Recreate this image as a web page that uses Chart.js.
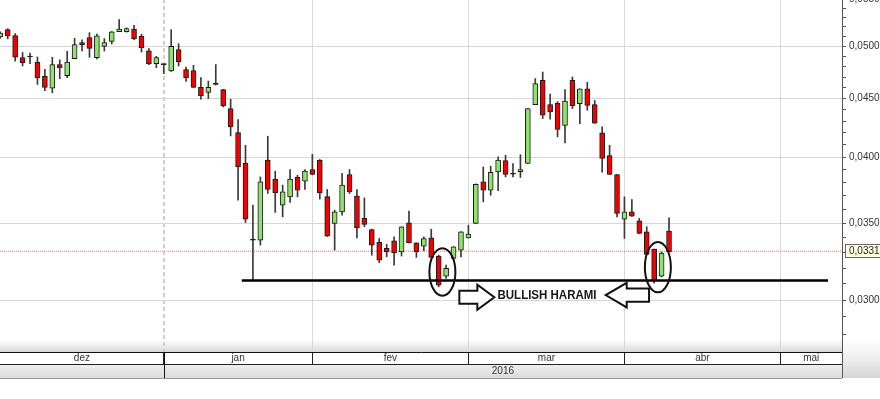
<!DOCTYPE html>
<html>
<head>
<meta charset="utf-8">
<script src="https://cdn.jsdelivr.net/npm/chart.js@4.4.1/dist/chart.umd.min.js"></script>
<style>
  html, body { margin: 0; padding: 0; background: #fff; overflow: hidden; }
  #wrap { position: relative; width: 880px; height: 399px; overflow: hidden; }
  /* canvas shifted up so the top tick label (0,0550) gets cut like in the original */
  #myChart { position: absolute; left: 0; top: -10px; }
</style>
</head>
<body>
<div id="wrap"><canvas id="myChart" width="880" height="409"></canvas></div>
<script>
// daily candles, dez/2015 -> abr/2016
const opens = [0.05095, 0.05171, 0.05110, 0.04888, 0.04894, 0.04845, 0.04708, 0.04595, 0.04820, 0.04714,
  0.04878, 0.05037, 0.05088, 0.04886, 0.05000, 0.05051, 0.05151, 0.05151, 0.05176, 0.05105,
  0.04955, 0.04829, 0.04820, 0.04758, 0.04967, 0.04771, 0.04762, 0.04604, 0.04558, 0.04632,
  0.04583, 0.04411, 0.04203, 0.03952, 0.03385, 0.03385, 0.03976, 0.03827, 0.03632, 0.03693,
  0.03840, 0.03811, 0.03902, 0.03976, 0.03694, 0.03500, 0.03583, 0.03863, 0.03698, 0.03536,
  0.03458, 0.03369, 0.03329, 0.03380, 0.03306, 0.03505, 0.03366, 0.03344, 0.03400, 0.03278,
  0.03148, 0.03263, 0.03317, 0.03400, 0.03500, 0.03806, 0.03743, 0.03883, 0.03972, 0.03865,
  0.03885, 0.03949, 0.04447, 0.04670, 0.04447, 0.04459, 0.04263, 0.04670, 0.04454, 0.04589,
  0.04447, 0.04200, 0.04012, 0.03863, 0.03531, 0.03583, 0.03519, 0.03442, 0.03324, 0.03148,
  0.03447]
const highs = [0.05148, 0.05181, 0.05130, 0.04938, 0.04933, 0.04894, 0.04774, 0.04891, 0.04866, 0.04950,
  0.05081, 0.05065, 0.05140, 0.05126, 0.05079, 0.05151, 0.05277, 0.05190, 0.05216, 0.05124,
  0.04977, 0.04901, 0.04825, 0.05171, 0.05027, 0.04796, 0.04813, 0.04695, 0.04663, 0.04820,
  0.04585, 0.04495, 0.04315, 0.04097, 0.03632, 0.03844, 0.04172, 0.03889, 0.03781, 0.03902,
  0.03858, 0.03902, 0.04022, 0.03981, 0.03748, 0.03595, 0.03871, 0.03902, 0.03748, 0.03685,
  0.03460, 0.03396, 0.03356, 0.03407, 0.03478, 0.03588, 0.03367, 0.03407, 0.03460, 0.03284,
  0.03219, 0.03341, 0.03443, 0.03488, 0.03790, 0.03922, 0.03928, 0.04002, 0.04016, 0.03949,
  0.04020, 0.04412, 0.04686, 0.04748, 0.04542, 0.04474, 0.04583, 0.04701, 0.04590, 0.04651,
  0.04483, 0.04251, 0.04097, 0.03864, 0.03693, 0.03673, 0.03536, 0.03477, 0.03325, 0.03306,
  0.03540]
const lows = [0.05081, 0.05076, 0.04854, 0.04806, 0.04829, 0.04631, 0.04572, 0.04554, 0.04684, 0.04695,
  0.04876, 0.04953, 0.04891, 0.04874, 0.04953, 0.05023, 0.05150, 0.05145, 0.05068, 0.04943,
  0.04818, 0.04789, 0.04733, 0.04753, 0.04806, 0.04660, 0.04602, 0.04495, 0.04501, 0.04625,
  0.04426, 0.04175, 0.03668, 0.03507, 0.03121, 0.03351, 0.03718, 0.03579, 0.03547, 0.03651,
  0.03693, 0.03748, 0.03860, 0.03676, 0.03410, 0.03317, 0.03559, 0.03718, 0.03400, 0.03477,
  0.03284, 0.03234, 0.03273, 0.03219, 0.03278, 0.03365, 0.03269, 0.03313, 0.03268, 0.03081,
  0.03134, 0.03251, 0.03273, 0.03399, 0.03499, 0.03656, 0.03705, 0.03739, 0.03844, 0.03844,
  0.03840, 0.03948, 0.04446, 0.04324, 0.04319, 0.04167, 0.04116, 0.04411, 0.04280, 0.04396,
  0.04282, 0.03881, 0.03862, 0.03547, 0.03396, 0.03550, 0.03430, 0.03288, 0.03103, 0.03143,
  0.03305]
const closes = [0.05136, 0.05107, 0.04891, 0.04839, 0.04894, 0.04693, 0.04602, 0.04820, 0.04791, 0.04845,
  0.05017, 0.05017, 0.04980, 0.05107, 0.05037, 0.05148, 0.05176, 0.05182, 0.05076, 0.04987,
  0.04829, 0.04888, 0.04820, 0.05000, 0.04845, 0.04695, 0.04604, 0.04525, 0.04604, 0.04632,
  0.04438, 0.04251, 0.03922, 0.03531, 0.03385, 0.03806, 0.03748, 0.03723, 0.03730, 0.03827,
  0.03743, 0.03889, 0.03863, 0.03723, 0.03412, 0.03583, 0.03781, 0.03730, 0.03470, 0.03494,
  0.03351, 0.03251, 0.03306, 0.03299, 0.03477, 0.03366, 0.03306, 0.03396, 0.03269, 0.03092,
  0.03198, 0.03340, 0.03442, 0.03426, 0.03788, 0.03743, 0.03879, 0.03976, 0.03863, 0.03865,
  0.03902, 0.04411, 0.04639, 0.04352, 0.04381, 0.04229, 0.04479, 0.04436, 0.04589, 0.04439,
  0.04283, 0.03989, 0.03863, 0.03572, 0.03583, 0.03552, 0.03431, 0.03289, 0.03123, 0.03297,
  0.03306]

// months (index of first candle of each month)
const monthLabels = ['dez', 'jan', 'fev', 'mar', 'abr', 'mai']
const monthStarts = [22, 42, 63, 84, 105]
const yearLabel = '2016'
const yearStart = 22

// y ticks every 0,001, labels every 0,005
const yTicks = [0.028, 0.029, 0.030, 0.031, 0.032, 0.033, 0.034, 0.035, 0.036, 0.037, 0.038, 0.039, 0.040, 0.041,
  0.042, 0.043, 0.044, 0.045, 0.046, 0.047, 0.048, 0.049, 0.050, 0.051, 0.052, 0.053, 0.054, 0.055]

// annotations
const lastPrice = 0.0331
const supportLevel = 0.0312
const supportFrom = 32.5
const supportTo = 111.4
const haramiAt = [59, 88]
const haramiText = 'BULLISH HARAMI'
const arrowRight = { from: 61.78, to: 66.49, y: 0.03017 }
const arrowLeft = { from: 87.31, to: 81.48, y: 0.03030 }
const textPos = { x: 73.58, y: 0.03024 }

const xMin = -0.04, xMax = 113.28
const yMin = 0.027021, yMax = 0.055

const FONT = '"Liberation Sans", Arial, sans-serif'
Chart.defaults.font.family = FONT

const upColor = '#8fe26c'
const downColor = '#f20000'

const idx = opens.map((_, i) => i)
const wickData = idx.map(i => ({ x: i, y: [lows[i], highs[i]] }))
const bodyData = idx.map(i => ({ x: i, y: [opens[i], closes[i]] }))

const bodyColor = (ctx) => {
  const i = ctx.dataIndex
  if (closes[i] > opens[i]) return upColor
  if (closes[i] < opens[i]) return downColor
  return '#111'
}
const isMajor = v => Math.abs(v * 200 - Math.round(v * 200)) < 1e-6

function arrow(ctx, xTail, xTip, yc, shaftH, headH, headL) {
  const dir = xTip > xTail ? 1 : -1
  const xb = xTip - dir * headL
  ctx.beginPath()
  ctx.moveTo(xTail, yc - shaftH)
  ctx.lineTo(xb, yc - shaftH)
  ctx.lineTo(xb, yc - headH)
  ctx.lineTo(xTip, yc)
  ctx.lineTo(xb, yc + headH)
  ctx.lineTo(xb, yc + shaftH)
  ctx.lineTo(xTail, yc + shaftH)
  ctx.closePath()
  ctx.fillStyle = '#fff'
  ctx.fill()
  ctx.lineWidth = 2
  ctx.strokeStyle = '#111'
  ctx.stroke()
}

const decor = {
  id: 'decor',
  beforeDraw(chart) {
    const { ctx, chartArea: a } = chart
    ctx.save()
    // grey fade at the bottom of the plot and right panel
    let g = ctx.createLinearGradient(0, a.bottom - 13, 0, a.bottom)
    g.addColorStop(0, 'rgba(225,225,225,0)')
    g.addColorStop(1, 'rgba(214,214,214,1)')
    ctx.fillStyle = g
    ctx.fillRect(a.left, a.bottom - 13, a.right - a.left, 13)
    g = ctx.createLinearGradient(0, a.bottom - 15, 0, a.bottom + 26)
    g.addColorStop(0, 'rgba(232,232,232,0)')
    g.addColorStop(1, 'rgba(212,212,212,1)')
    ctx.fillStyle = g
    ctx.fillRect(a.right, a.bottom - 15, chart.width - a.right, 41)
    ctx.restore()
  },
  afterDatasetsDraw(chart) {
    const { ctx } = chart
    const xs = chart.scales.x, ys = chart.scales.y
    ctx.save()
    // ellipses round the two haramis
    haramiAt.forEach(s => {
      const cx = (xs.getPixelForValue(s) + xs.getPixelForValue(s + 1)) / 2
      const top = ys.getPixelForValue(Math.max(highs[s], highs[s + 1]))
      const bot = ys.getPixelForValue(Math.min(lows[s], lows[s + 1]))
      ctx.beginPath()
      ctx.ellipse(cx, (top + bot) / 2 + 1, 13, (bot - top) / 2 + 8, 0, 0, Math.PI * 2)
      ctx.lineWidth = 2
      ctx.strokeStyle = '#111'
      ctx.stroke()
    })
    arrow(ctx, xs.getPixelForValue(arrowRight.from), xs.getPixelForValue(arrowRight.to),
      ys.getPixelForValue(arrowRight.y), 6.5, 12.5, 17)
    arrow(ctx, xs.getPixelForValue(arrowLeft.from), xs.getPixelForValue(arrowLeft.to),
      ys.getPixelForValue(arrowLeft.y), 6.7, 12.3, 21)
    // label
    ctx.font = 'bold 12px ' + FONT
    const w = ctx.measureText(haramiText).width
    const tx = xs.getPixelForValue(textPos.x), ty = ys.getPixelForValue(textPos.y)
    ctx.translate(tx, ty)
    ctx.scale(99 / w, 1)
    ctx.fillStyle = '#15151f'
    ctx.textAlign = 'center'
    ctx.textBaseline = 'middle'
    ctx.fillText(haramiText, 0, 0)
    ctx.restore()
  },
  afterDraw(chart) {
    const { ctx, chartArea: a } = chart
    const xs = chart.scales.x, ys = chart.scales.y
    const r1 = a.bottom, r2 = a.bottom + 12, r3 = a.bottom + 26
    ctx.save()
    // second row (year)
    const g = ctx.createLinearGradient(0, r2, 0, r3)
    g.addColorStop(0, '#efefef')
    g.addColorStop(1, '#dcdcdc')
    ctx.fillStyle = g
    ctx.fillRect(a.left, r2 + 0.5, a.right - a.left, r3 - r2)
    ctx.lineWidth = 1
    ctx.strokeStyle = '#222'
    ctx.beginPath()
    ctx.moveTo(a.left, r2 + 0.5); ctx.lineTo(a.right, r2 + 0.5)
    ctx.stroke()
    ctx.strokeStyle = '#9a9a9a'
    ctx.beginPath()
    ctx.moveTo(a.left, r3 + 0.5); ctx.lineTo(a.right, r3 + 0.5)
    ctx.stroke()
    // year separator and y axis line through the band
    ctx.strokeStyle = '#111'
    const xy = Math.round(xs.getPixelForValue(yearStart)) + 0.5
    ctx.beginPath()
    ctx.moveTo(xy, r1); ctx.lineTo(xy, r3)
    ctx.stroke()
    ctx.strokeStyle = '#555'
    ctx.beginPath()
    ctx.moveTo(a.right + 0.5, r1); ctx.lineTo(a.right + 0.5, r3)
    ctx.stroke()
    // month labels, centred between boundaries
    const edges = [a.left].concat(monthStarts.map(v => xs.getPixelForValue(v)), [a.right])
    ctx.fillStyle = '#333'
    ctx.font = '10px ' + FONT
    ctx.textAlign = 'center'
    ctx.textBaseline = 'middle'
    monthLabels.forEach((m, k) => ctx.fillText(m, (edges[k] + edges[k + 1]) / 2, r1 + 6.5))
    ctx.fillText(yearLabel, (xs.getPixelForValue(yearStart) + a.right) / 2, r2 + 7.5)
    // last price box on the axis
    const py = ys.getPixelForValue(lastPrice)
    ctx.fillStyle = '#ffffe1'
    ctx.strokeStyle = '#666'
    ctx.fillRect(a.right + 3.5, Math.round(py) - 6.5, 40, 13)
    ctx.strokeRect(a.right + 3.5, Math.round(py) - 6.5, 40, 13)
    ctx.fillStyle = '#222'
    ctx.textAlign = 'left'
    ctx.fillText(lastPrice.toFixed(4).replace('.', ','), a.right + 7, Math.round(py))
    ctx.restore()
  }
}

const config = {
  type: 'bar',
  data: {
    datasets: [
      {
        type: 'line',
        data: [{ x: supportFrom, y: supportLevel }, { x: supportTo, y: supportLevel }],
        borderColor: '#000', borderWidth: 2.5, pointRadius: 0, order: 0
      },
      {
        data: bodyData, backgroundColor: bodyColor, borderColor: '#1a1a1a', borderWidth: 1,
        borderSkipped: false, barThickness: 5, minBarLength: 1, grouped: false, order: 1
      },
      {
        data: wickData, backgroundColor: '#3a3a3a', barThickness: 1, grouped: false, order: 2
      },
      {
        type: 'line',
        data: [{ x: xMin, y: lastPrice }, { x: xMax, y: lastPrice }],
        borderColor: '#f27272', borderWidth: 1, borderDash: [1, 1], pointRadius: 0, order: 3
      }
    ]
  },
  options: {
    responsive: false,
    animation: false,
    devicePixelRatio: 1,
    layout: { padding: { top: 8.61, bottom: 35, left: 0, right: 0 } },
    plugins: { legend: { display: false }, tooltip: { enabled: false } },
    scales: {
      x: {
        type: 'linear', min: xMin, max: xMax, offset: false,
        afterBuildTicks: s => { s.ticks = monthStarts.map(v => ({ value: v })) },
        ticks: { display: false, autoSkip: false },
        grid: {
          offset: false,
          color: ctx => (ctx.tick && ctx.tick.value === yearStart) ? '#cdcdcd' : '#d9d9d9',
          lineWidth: ctx => (ctx.tick && ctx.tick.value === yearStart) ? 2 : 1,
          tickLength: 12,
          tickColor: '#222'
        },
        border: {
          color: '#111',
          dash: ctx => (ctx.tick && ctx.tick.value === yearStart) ? [4, 3] : []
        }
      },
      y: {
        type: 'logarithmic', position: 'right', min: yMin, max: yMax,
        afterBuildTicks: s => { s.ticks = yTicks.map(v => ({ value: v })) },
        afterFit: s => { s.width = 38 },
        ticks: {
          autoSkip: false, padding: 3, color: '#333', font: { size: 10 },
          callback: v => isMajor(v) ? v.toFixed(4).replace('.', ',') : ''
        },
        grid: {
          color: ctx => (ctx.tick && isMajor(ctx.tick.value)) ? '#d6d6d6' : 'rgba(0,0,0,0)',
          tickColor: '#555', tickLength: 4
        },
        border: { color: '#555', width: 1 }
      }
    }
  },
  plugins: [decor]
}

const myChart = new Chart(document.getElementById('myChart'), config)
</script>
</body>
</html>
